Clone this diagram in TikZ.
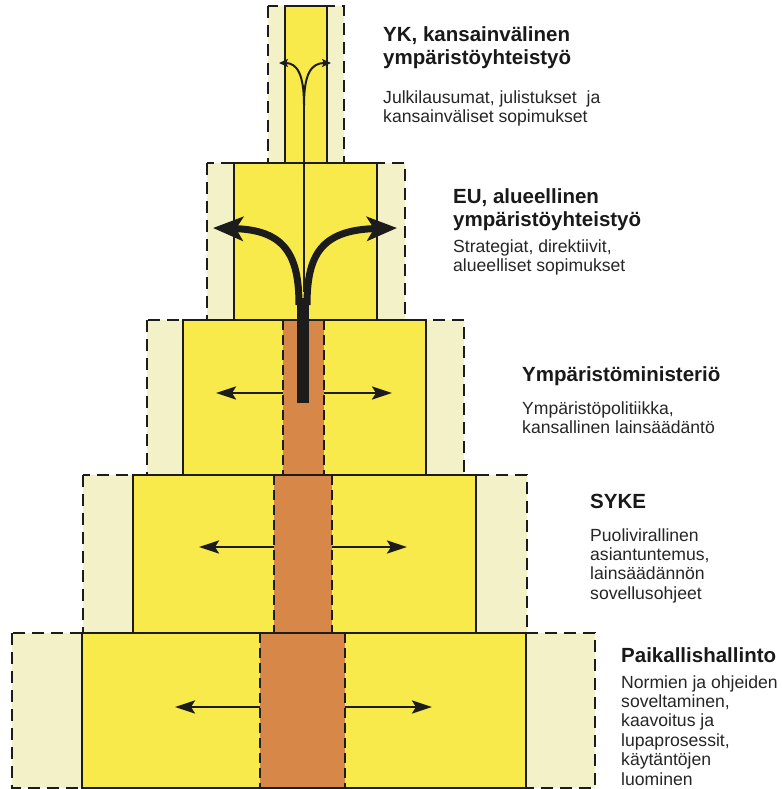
\documentclass[tikz,border=0pt]{standalone}
\usepackage{fontspec}
\setmainfont{Liberation Sans}
\usetikzlibrary{arrows.meta}
\definecolor{keltainen}{RGB}{248,234,74}
\definecolor{vaalea}{RGB}{243,241,200}
\definecolor{oranssi}{RGB}{215,136,72}
\definecolor{viiva}{RGB}{28,28,28}
\tikzset{
  ulko/.style ={fill=vaalea, draw=viiva, line width=2.2pt, dash pattern=on 12pt off 7pt},
  sisa/.style ={draw=viiva, line width=2.2pt},
  katko/.style={draw=viiva, line width=1.8pt, dash pattern=on 10pt off 5pt},
  otsikko/.style={anchor=base west, inner sep=0pt,
    font=\fontsize{20.5}{23}\selectfont\bfseries, text=black!90},
  teksti/.style ={anchor=base west, inner sep=0pt,
    font=\fontsize{17.6}{19.4}\selectfont, text=black!85}}

\begin{document}
\begin{tikzpicture}[x=1pt, y=-1pt]

\tikzset{
nuoli/.style ={-{Stealth[length=20pt, width=13pt, inset=4pt]}, line width=2.6pt, draw=viiva},
nuoli1/.style={-{Stealth[length=30pt, width=24pt, inset=7pt]}, line width=7pt, draw=viiva},
nuoli2/.style={-{Stealth[length=9pt, width=8pt, inset=2pt]}, line width=2pt, draw=viiva}
}

\useasboundingbox[fill=white] (0,0) rectangle (781,789);

%TASO 1
\draw[ulko] (268,6) rectangle (344,163);
\fill[keltainen] (285,6) rectangle (327,163);
\draw[sisa] (285,6) rectangle (327,163);

%TASO 2
\draw[ulko] (207,163) rectangle (405,320);
\fill[keltainen] (234,163) rectangle (377,320);
\draw[sisa] (234,163) rectangle (377,320);

%TASO 3
\draw[ulko] (147,320) rectangle (464,475);
\fill[keltainen] (183,320) rectangle (426,475);
\fill[oranssi] (283,320) rectangle (324,475);
\draw[katko] (283,320) -- (283,475) (324,320) -- (324,475);
\draw[sisa] (183,320) rectangle (426,475);

%TASO 4
\draw[ulko] (83,475) rectangle (527,633);
\fill[keltainen] (133,475) rectangle (476,633);
\fill[oranssi] (274,475) rectangle (332,633);
\draw[katko] (274,475) -- (274,633) (332,475) -- (332,633);
\draw[sisa] (133,475) rectangle (476,633);

%TASO 5
\draw[ulko] (12,633) rectangle (595,788);
\fill[keltainen] (82,633) rectangle (526,788);
\fill[oranssi] (260,633) rectangle (345,788);
\draw[katko] (260,633) -- (260,788) (345,633) -- (345,788);
\draw[sisa] (82,633) rectangle (526,788);

%NUOLET 1
\coordinate (r1) at (304,163);
\coordinate (h1) at (304,105);
\coordinate (p1v) at (279,63);
\coordinate (p1o) at (331,63);
\draw[sisa] (r1) -- (h1);
\draw[nuoli2] (h1) .. controls (304,74) and (297,63) .. (p1v);
\draw[nuoli2] (h1) .. controls (304,74) and (311,63) .. (p1o);

%NUOLET 2
\coordinate (r2) at (304,163);
\coordinate (h2) at (304,292);
\coordinate (h2v) at (299,305);
\coordinate (h2o) at (307,305);
\coordinate (p2v) at (213,228);
\coordinate (p2o) at (397,228);
\draw[sisa] (r2) -- (h2);
\fill[viiva] (297,298) rectangle (309,403);
\draw[nuoli1] (h2v) .. controls (299,255) and (285,230) .. (p2v);
\draw[nuoli1] (h2o) .. controls (307,255) and (321,230) .. (p2o);

%NUOLET 3
\coordinate (k3v) at (283,393);
\coordinate (k3o) at (324,393);
\coordinate (p3v) at (216,393);
\coordinate (p3o) at (392,393);
\draw[nuoli] (k3v) -- (p3v);
\draw[nuoli] (k3o) -- (p3o);

%NUOLET 4
\coordinate (k4v) at (274,547);
\coordinate (k4o) at (332,547);
\coordinate (p4v) at (199,547);
\coordinate (p4o) at (407,547);
\draw[nuoli] (k4v) -- (p4v);
\draw[nuoli] (k4o) -- (p4o);

%NUOLET 5
\coordinate (k5v) at (260,707);
\coordinate (k5o) at (345,707);
\coordinate (p5v) at (175,707);
\coordinate (p5o) at (432,707);
\draw[nuoli] (k5v) -- (p5v);
\draw[nuoli] (k5o) -- (p5o);

%TEKSTIT
\node[otsikko] (yk) at (383,42) {
    \begin{tabular}[t]{@{}l@{}}
        YK, kansainvälinen\\ympäristöyhteistyö
    \end{tabular}
};
\node[teksti] (yk_t) at ([yshift=-61pt]yk.base west) {
    \begin{tabular}[t]{@{}l@{}}
        Julkilausumat, julistukset\ \ ja\\kansainväliset sopimukset
    \end{tabular}
};

\node[otsikko] (eu) at (453,203) {
    \begin{tabular}[t]{@{}l@{}}
        EU, alueellinen\\ympäristöyhteistyö
    \end{tabular}
};
\node[teksti] (eu_t) at ([yshift=-49pt]eu.base west) {
    \begin{tabular}[t]{@{}l@{}}
        Strategiat, direktiivit,\\alueelliset sopimukset
    \end{tabular}
};

\node[otsikko] (ym) at (522,381) {Ympäristöministeriö};
\node[teksti] (ym_t) at ([yshift=-33pt]ym.base west) {
    \begin{tabular}[t]{@{}l@{}}
        Ympäristöpolitiikka,\\kansallinen lainsäädäntö
    \end{tabular}
};

\node[otsikko] (syke) at (590,508) {SYKE};
\node[teksti] (syke_t) at ([yshift=-33pt]syke.base west) {
    \begin{tabular}[t]{@{}l@{}}
        Puolivirallinen\\asiantuntemus,\\lainsäädännön\\sovellusohjeet
    \end{tabular}
};

\node[otsikko] (pk) at (621,662) {Paikallishallinto};
\node[teksti] (pk_t) at ([yshift=-26pt]pk.base west) {
    \begin{tabular}[t]{@{}l@{}}
        Normien ja ohjeiden\\soveltaminen,\\kaavoitus ja\\lupaprosessit,\\käytäntöjen\\luominen
    \end{tabular}
};
\end{tikzpicture}
\end{document}
